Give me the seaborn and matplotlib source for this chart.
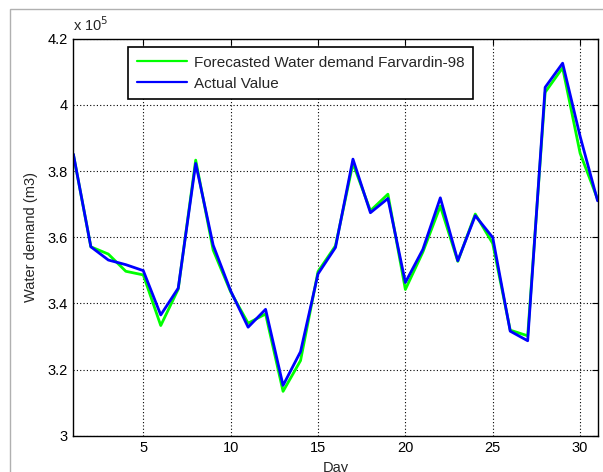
import numpy as np
import pandas as pd
import matplotlib
matplotlib.use("Agg")
import matplotlib.pyplot as plt
import seaborn as sns
from matplotlib.ticker import FuncFormatter
from matplotlib.patches import Rectangle

days = list(range(1, 32))
forecast = [385000, 357100, 354900, 349700, 348600, 333300, 344300, 383300, 356100, 343500,
            334000, 336800, 313400, 322700, 349600, 357400, 382300, 368000, 373000, 344200,
            355500, 369400, 352700, 367000, 358100, 331900, 330200, 403800, 411200, 385400,
            371500]
actual = [385100, 357100, 353100, 351700, 349900, 336500, 344600, 382300, 357600, 343800,
          332800, 338200, 315200, 325400, 348900, 356900, 383600, 367400, 371700, 346300,
          356300, 371900, 352900, 366500, 359900, 331600, 328700, 405300, 412600, 390500,
          371000]
series_names = ["Forecasted Water demand Farvardin-98", "Actual Value"]
y_ticks = [300000, 320000, 340000, 360000, 380000, 400000, 420000]
x_ticks = [5, 10, 15, 20, 25, 30]

df = pd.DataFrame({
    "Day": days * 2,
    "Water demand (m3)": forecast + actual,
    "series": [series_names[0]] * len(days) + [series_names[1]] * len(days),
})

sns.set_style("white")
plt.rcParams["font.family"] = ["Liberation Sans", "DejaVu Sans"]
plt.rcParams["font.size"] = 10

fig = plt.figure(figsize=(6.03, 4.72), dpi=100)
ax = fig.add_axes([0.1217, 0.0769, 0.991 - 0.1217, 0.918 - 0.0769])

sns.lineplot(data=df, x="Day", y="Water demand (m3)", hue="series",
             palette={series_names[0]: "#00ff00", series_names[1]: "#0000ff"},
             linewidth=2.0, ax=ax, legend=True)

ax.set_xlim(1, 31)
ax.set_ylim(300000, 420000)
ax.set_xticks(x_ticks)
ax.set_yticks(y_ticks)
ax.yaxis.set_major_formatter(FuncFormatter(lambda v, p: f"{v/1e5:g}"))
ax.grid(True, color="black", linestyle=(0, (1, 2)), linewidth=0.8)
ax.tick_params(direction="in", length=4, width=0.8, top=True, right=True,
               labelsize=10.5, colors="black", pad=4)
for s in ax.spines.values():
    s.set_visible(True)
    s.set_color("black")
    s.set_linewidth(1.0)

ax.set_xlabel("Day", fontsize=10.5, labelpad=4)
ax.set_ylabel("Water demand (m3)", fontsize=10.5, labelpad=7)
ax.text(0.0, 1.012, "x 10$^{5}$", transform=ax.transAxes, fontsize=10.5,
        ha="left", va="bottom")

leg = ax.legend(loc="upper left", bbox_to_anchor=(0.105, 0.978), borderaxespad=0,
                frameon=True, fancybox=False, edgecolor="black", framealpha=1,
                handlelength=3.3, handletextpad=0.45, fontsize=11, borderpad=0.55,
                labelspacing=0.45)
leg.get_frame().set_linewidth(1.2)
for line in leg.get_lines():
    line.set_linewidth(1.6)

fig.patches.append(Rectangle((9.5 / 603, -0.1), 1.2, 1.1 - 9.5 / 472,
                             transform=fig.transFigure, fill=False,
                             edgecolor="#b0b0b0", linewidth=1.0))

fig.savefig("out.png", dpi=100)
